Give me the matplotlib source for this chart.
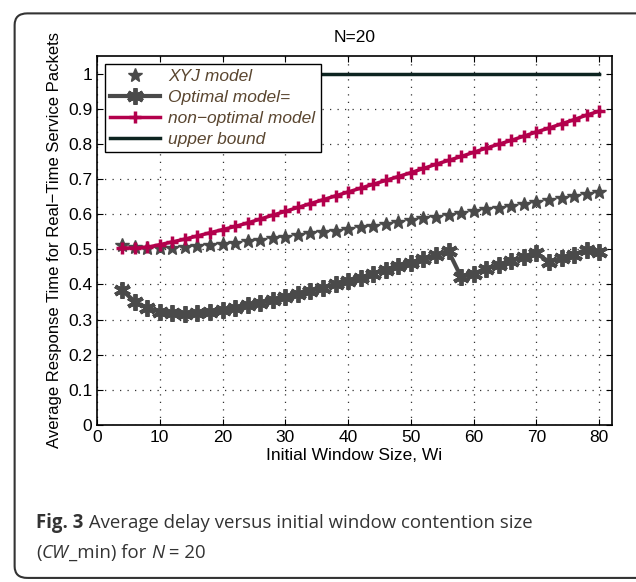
import matplotlib
matplotlib.use('Agg')
import matplotlib.pyplot as plt
from matplotlib.patches import FancyBboxPatch

# 數據
window_sizes = [4, 6, 8, 10, 12, 14, 16, 18, 20, 22, 24, 26, 28, 30, 32, 34, 36, 38, 40,
                42, 44, 46, 48, 50, 52, 54, 56, 58, 60, 62, 64, 66, 68, 70, 72, 74, 76, 78, 80]
xyj_model = [0.512, 0.506, 0.504, 0.503, 0.504, 0.506, 0.509, 0.512, 0.515, 0.519,
             0.523, 0.527, 0.531, 0.536, 0.541, 0.545, 0.550, 0.552, 0.557, 0.563,
             0.567, 0.572, 0.577, 0.582, 0.588, 0.592, 0.597, 0.603, 0.609, 0.614,
             0.618, 0.623, 0.629, 0.635, 0.640, 0.646, 0.652, 0.657, 0.663]
optimal_model = [0.384, 0.351, 0.332, 0.322, 0.318, 0.316, 0.318, 0.322, 0.327, 0.333,
                 0.340, 0.348, 0.355, 0.364, 0.372, 0.382, 0.390, 0.400, 0.409, 0.419,
                 0.431, 0.442, 0.451, 0.462, 0.471, 0.483, 0.494, 0.421, 0.431, 0.444,
                 0.456, 0.467, 0.477, 0.489, 0.464, 0.474, 0.485, 0.499, 0.492]
non_optimal_model = [0.504, 0.503, 0.506, 0.513, 0.521, 0.529, 0.538, 0.547, 0.556, 0.565,
                     0.575, 0.586, 0.597, 0.608, 0.619, 0.630, 0.641, 0.652, 0.663, 0.674,
                     0.685, 0.696, 0.707, 0.718, 0.730, 0.742, 0.753, 0.764, 0.776, 0.788,
                     0.799, 0.810, 0.822, 0.834, 0.845, 0.857, 0.869, 0.882, 0.893]
bound_x = [4, 80]
bound_y = [1.0, 1.0]

x_ticks = [0, 10, 20, 30, 40, 50, 60, 70, 80]
y_ticks = [0, 0.1, 0.2, 0.3, 0.4, 0.5, 0.6, 0.7, 0.8, 0.9, 1]
y_tick_labels = ['0', '0.1', '0.2', '0.3', '0.4', '0.5', '0.6', '0.7', '0.8', '0.9', '1']

plt.rcParams['font.family'] = ['Liberation Sans', 'DejaVu Sans']

fig = plt.figure(figsize=(6.36, 5.82), dpi=100)
ax = fig.add_axes([0.1525, 0.2698, 0.8095, 0.634])

gray = '#4a4a4a'
crimson = '#b3004c'
ax.plot(window_sizes, xyj_model, linestyle='none', marker='*', color=gray,
        markersize=10, label='XYJ model')
ax.plot(window_sizes, optimal_model, color=gray, linewidth=3, marker=(6, 2, 0),
        markersize=12, markeredgewidth=2.8, label='Optimal model=')
ax.plot(window_sizes, non_optimal_model, color=crimson, linewidth=2.5, marker='+',
        markersize=9, markeredgewidth=2.5, label='non\u2212optimal model')
ax.plot(bound_x, bound_y, color='#0d2420', linewidth=2.5, label='upper bound')

ax.set_xlim(0, 82)
ax.set_ylim(0, 1.05)
ax.set_xticks(x_ticks)
ax.set_yticks(y_ticks)
ax.set_yticklabels(y_tick_labels)
ax.tick_params(direction='in', top=True, right=True, labelsize=12.5, length=4)
ax.grid(True, linestyle=(0, (1, 5)), color='#333333', linewidth=0.9)
for s in ax.spines.values():
    s.set_linewidth(1.2)

ax.set_title('N=20', fontsize=12.5, pad=10)
ax.set_xlabel('Initial Window Size, Wi', fontsize=12.5, labelpad=2)
ax.set_ylabel('Average Response Time for Real\u2212Time Service Packets', fontsize=12, labelpad=4)

leg = ax.legend(loc='upper left', bbox_to_anchor=(0.0, 1.0), fancybox=False,
                edgecolor='black', framealpha=1, fontsize=12.5, handlelength=2.9,
                handletextpad=0.45, borderaxespad=0.45, labelspacing=0.33, borderpad=0.3)
leg.get_frame().set_linewidth(1.0)
for t in leg.get_texts():
    t.set_fontstyle('italic')
    t.set_color('#5a4630')

# 外框
frame = FancyBboxPatch((0.023, 0.007), 1.0, 0.97, transform=fig.transFigure,
                       boxstyle='round,pad=0,rounding_size=0.02', fill=False,
                       edgecolor='#333333', linewidth=1.5, clip_on=False)
fig.patches.append(frame)

# 圖說 (混合字型)
def put_pieces(pieces, x, y):
    fig.canvas.draw()
    r = fig.canvas.get_renderer()
    cur = x
    for txt, kw in pieces:
        t = fig.text(cur, y, txt, fontsize=13.4, color='#333333',
                     family=['Open Sans', 'DejaVu Sans'], va='baseline', **kw)
        bb = t.get_window_extent(renderer=r)
        cur += bb.width / fig.bbox.width

put_pieces([('Fig. 3', {'weight': 'bold'}),
            (' Average delay versus initial window contention size', {})],
           0.057, 0.093)
put_pieces([('(', {}), ('CW', {'style': 'italic'}), ('_min) for ', {}),
            ('N', {'style': 'italic'}), (' = 20', {})],
           0.057, 0.042)

fig.savefig('out.png', dpi=100)
